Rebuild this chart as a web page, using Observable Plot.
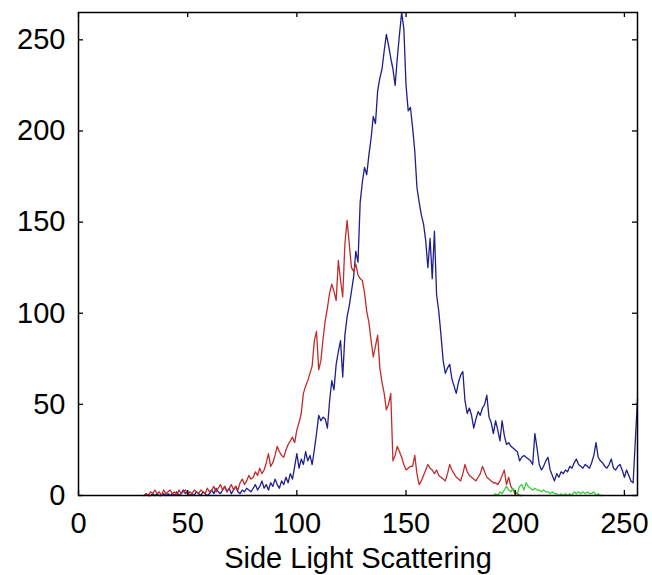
<!DOCTYPE html>
<html><head><meta charset="utf-8">
<script src="https://cdn.jsdelivr.net/npm/d3@7"></script>
<script src="https://cdn.jsdelivr.net/npm/@observablehq/plot@0.6"></script>
<style>body{margin:0;background:#fff}</style>
</head><body><div id="chart"></div>
<script>
// Histogram counts per bin (bin index = start + position)
const blueStart = 30;
const blueCounts = [
  0,1,0,0,1,0,1,0,0,1,
  0,1,0,1,0,2,0,1,3,1,
  2,0,1,0,2,1,0,2,1,0,
  1,3,1,4,2,1,3,5,2,4,
  1,3,5,2,1,3,2,4,3,2,
  4,6,3,5,8,4,6,3,7,5,
  9,6,4,8,6,10,7,12,9,16,
  23,15,20,17,24,19,22,17,25,34,
  44,41,43,42,37,52,63,58,72,79,
  85,65,88,98,104,112,120,134,128,161,
  172,180,176,187,196,208,204,222,229,234,
  244,253,247,240,234,225,240,253,265,256,
  225,211,213,202,189,169,161,154,149,140,
  125,141,119,145,110,101,88,74,67,70,
  72,64,60,56,62,66,68,52,45,48,
  44,37,42,46,44,48,50,55,43,40,
  34,41,36,30,41,33,28,29,27,26,
  25,24,19,21,22,21,20,19,17,34,
  26,17,14,16,19,21,14,11,8,12,
  10,13,12,14,13,16,15,18,20,17,
  16,15,17,16,15,18,22,29,21,19,
  18,16,15,17,20,15,14,16,17,14,
  10,14,11,8,7,30,53
];
const redStart = 30;
const redCounts = [
  0,1,0,2,1,3,1,2,0,3,
  1,2,3,1,2,0,3,1,2,3,
  1,2,1,3,2,1,3,2,1,4,
  2,3,5,2,4,6,3,5,2,4,
  6,3,5,3,7,9,6,8,11,9,
  10,13,11,15,12,14,18,23,16,18,
  22,27,24,22,21,25,28,30,32,29,
  36,40,45,56,60,63,67,71,85,90,
  69,74,86,96,103,111,116,112,107,129,
  118,109,138,151,138,125,123,127,121,119,
  118,111,101,95,85,76,82,88,70,62,
  56,47,50,56,19,22,27,24,21,17,
  14,15,16,16,22,12,6,8,11,14,
  17,15,14,12,14,11,10,9,8,12,
  17,14,12,10,9,8,12,17,13,11,
  10,9,8,10,12,16,13,10,9,8,
  7,7,6,8,11,14,6,10,5,3,
  1,1,0,0
];
const greenStart = 190;
const greenCounts = [
  0,1,0,2,1,3,5,3,2,4,
  2,1,5,6,3,7,5,4,3,4,
  3,3,2,3,2,2,1,2,1,1,
  0,1,0,1,0,1,0,2,1,2,
  1,2,1,2,1,1,2,0,1,0,
  0
];
const xTicks = [0, 50, 100, 150, 200, 250];
const yTicks = [0, 50, 100, 150, 200, 250];
const xLabel = "Side Light Scattering";
const xMax = 256;

const seriesNames = ["Series 1", "Series 2", "Series 3"];
const seriesColors = ["#1e1e8c", "#c22c2c", "#3ccf3c"];

const series = [
  {name: seriesNames[0], start: blueStart, counts: blueCounts},
  {name: seriesNames[1], start: redStart, counts: redCounts},
  {name: seriesNames[2], start: greenStart, counts: greenCounts}
];
const rows = series.flatMap(s => s.counts.map((c, i) => ({bin: s.start + i, count: c, series: s.name})));
const yMax = d3.max(rows, d => d.count);

const W = 652, H = 575, mL = 78, mR = 15, mT = 12, mB = 80;
const innerW = W - mL - mR, innerH = H - mT - mB;
const tickLen = 5;
const font = "'Liberation Sans', Arial, Helvetica, sans-serif";
const chart = Plot.plot({
  width: W,
  height: H,
  marginLeft: mL,
  marginRight: mR,
  marginTop: mT,
  marginBottom: mB,
  style: {fontFamily: font, fontSize: "29px", color: "black", background: "white"},
  x: {domain: [0, xMax]},
  y: {domain: [0, yMax]},
  color: {type: "ordinal", domain: seriesNames, range: seriesColors},
  marks: [
    Plot.lineY(rows, {x: "bin", y: "count", z: "series", stroke: "series", strokeWidth: 1.3}),
    // inward ticks on all four sides
    Plot.tickX(xTicks, {x: d => d, insetTop: innerH - tickLen, stroke: "black", strokeWidth: 1.3}),
    Plot.tickX(xTicks, {x: d => d, insetBottom: innerH - tickLen, stroke: "black", strokeWidth: 1.3}),
    Plot.tickY(yTicks, {y: d => d, insetRight: innerW - tickLen, stroke: "black", strokeWidth: 1.3}),
    Plot.tickY(yTicks, {y: d => d, insetLeft: innerW - tickLen, stroke: "black", strokeWidth: 1.3}),
    Plot.frame({stroke: "black", strokeWidth: 1.5}),
    Plot.axisX(xTicks, {anchor: "bottom", tickSize: 0, tickPadding: 17, fontSize: 29, label: null}),
    Plot.axisY(yTicks, {anchor: "left", tickSize: 0, tickPadding: 13, fontSize: 29, label: null}),
    Plot.text([xLabel], {text: d => d, frameAnchor: "bottom", lineAnchor: "top", dy: 52, fontSize: 29, fill: "black"})
  ]
});
document.getElementById("chart").appendChild(chart);
</script>
</body></html>
